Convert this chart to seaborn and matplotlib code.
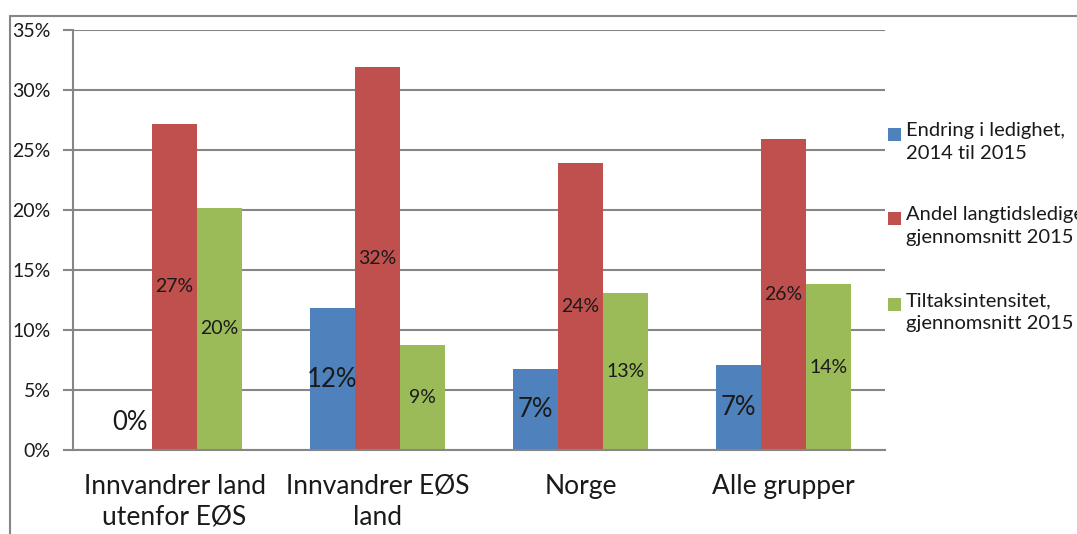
import matplotlib
matplotlib.use("Agg")
import matplotlib.pyplot as plt
import seaborn as sns
import pandas as pd
from matplotlib.lines import Line2D
from matplotlib.patches import Rectangle

categories = ["Innvandrer land\nutenfor EØS", "Innvandrer EØS\nland", "Norge", "Alle grupper"]
series = ["Endring i ledighet,\n2014 til 2015",
          "Andel langtidsledige,\ngjennomsnitt 2015",
          "Tiltaksintensitet,\ngjennomsnitt 2015"]
endring = [0.1, 11.8, 6.75, 7.05]
langtid = [27.2, 31.9, 23.9, 25.9]
tiltak = [20.2, 8.75, 13.05, 13.8]
labels_endring = ["0%", "12%", "7%", "7%"]
labels_langtid = ["27%", "32%", "24%", "26%"]
labels_tiltak = ["20%", "9%", "13%", "14%"]
yticks = [0, 5, 10, 15, 20, 25, 30, 35]
colors = ["#4F81BD", "#C0504D", "#9BBB59"]

sns.set_theme(style="white")
plt.rcParams["font.family"] = ["Lato", "DejaVu Sans"]

rows = []
for s, vals in zip(series, [endring, langtid, tiltak]):
    for c, v in zip(categories, vals):
        rows.append({"cat": c, "series": s, "val": v})
df = pd.DataFrame(rows)

W, H = 1077, 534
fig = plt.figure(figsize=(W / 100, H / 100), dpi=100)
ax = fig.add_axes([73/W, 1-450/H, (885-73)/W, 420/H])

sns.barplot(data=df, x="cat", y="val", hue="series", order=categories,
            hue_order=series, palette=colors, width=0.665, gap=0,
            saturation=1, ax=ax, legend=False, linewidth=0)

ax.set_ylim(0, 35)
ax.set_xlim(-0.5, len(categories) - 0.5)
ax.set_yticks(yticks)
ax.set_yticklabels([f"{t}%" for t in yticks], fontsize=14, color="#1a1a1a")
ax.yaxis.grid(True, color="#868686", linewidth=1.5)
ax.set_axisbelow(True)
ax.set_xlabel("")
ax.set_ylabel("")
ax.set_xticks(range(len(categories)))
ax.set_xticklabels(categories, fontsize=19, color="#1a1a1a", linespacing=1.3)
ax.set_xticks([i - 0.5 for i in range(len(categories) + 1)], minor=True)
ax.tick_params(axis="x", which="major", length=0, pad=17)
ax.tick_params(axis="x", which="minor", length=8, width=1.5, color="#868686", direction="out")
ax.tick_params(axis="y", length=7, width=1.5, color="#868686", direction="out", left=True, pad=9)
for sp in ["top", "right"]:
    ax.spines[sp].set_visible(False)
for sp in ["left", "bottom"]:
    ax.spines[sp].set_color("#868686")
    ax.spines[sp].set_linewidth(1.5)

# data labels
all_labels = [labels_endring, labels_langtid, labels_tiltak]
sizes = [18.5, 14, 14]
for cont, labs, fs in zip(ax.containers, all_labels, sizes):
    for bar, lab in zip(cont, labs):
        h = bar.get_height()
        xc = bar.get_x() + bar.get_width() / 2
        yc = h / 2 if h > 2 else 2.3
        ax.text(xc, yc, lab, ha="center", va="center", fontsize=fs, color="#1a1a1a")

# legend (drawn manually so the marker sits on the first text line)
leg_tops = [122, 206, 292]
for s, c, top in zip(series, colors, leg_tops):
    fig.add_artist(Rectangle((888/W, 1-(top+19)/H), 13/W, 13/H, facecolor=c,
                             edgecolor="none", transform=fig.transFigure))
    fig.text(906/W, 1-top/H, s, ha="left", va="top", fontsize=14.5,
             color="#1a1a1a", linespacing=1.45)

# chart-area border
fig.add_artist(Line2D([10/W, 1], [1-16/H, 1-16/H], color="#868686", linewidth=1.5,
                      transform=fig.transFigure))
fig.add_artist(Line2D([10/W, 10/W], [0, 1-16/H], color="#868686", linewidth=1.5,
                      transform=fig.transFigure))

fig.savefig("out.png", dpi=100)
